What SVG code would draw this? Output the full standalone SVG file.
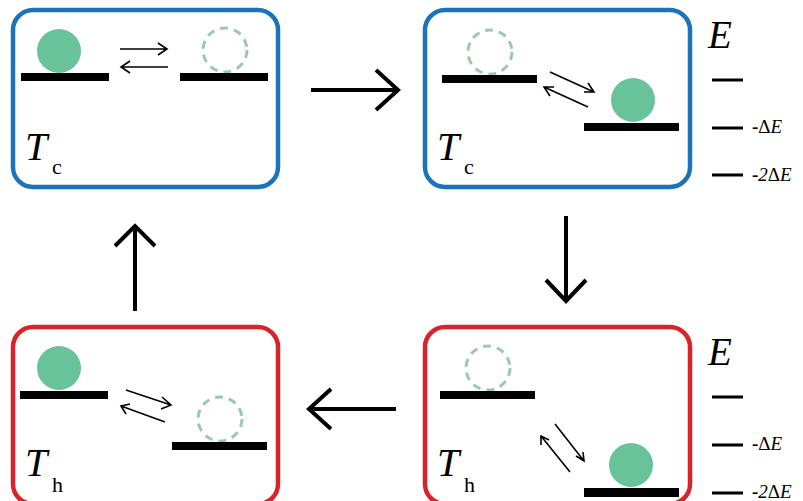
<svg xmlns="http://www.w3.org/2000/svg" width="803" height="501" viewBox="0 0 803 501">
<defs>
<style>
.box{fill:#fff;stroke-width:4.5}
.cold{stroke:#1b74bb}
.hot{stroke:#d9232a}
.bar{fill:#000}
.ball{fill:#68c39b}
.hole{fill:none;stroke:#9ccaa8;stroke-width:3;stroke-dasharray:8 6}
.eq{fill:none;stroke:#000;stroke-width:1.6}
.big{fill:none;stroke:#000;stroke-width:4}
.lvl{stroke:#000;stroke-width:3}
.T{font-family:"Liberation Serif",serif;font-style:italic;font-size:40px}
.sub{font-family:"Liberation Serif",serif;font-size:22px}
.E{font-family:"Liberation Serif",serif;font-style:italic;font-size:39px}
.lab{font-family:"Liberation Serif",serif;font-size:19px}
</style>
</defs>
<g id="box-tl">
<rect class="box cold" x="13" y="10" width="265" height="177" rx="20"/>
<circle class="ball" cx="59" cy="51" r="22"/>
<rect class="bar" x="21" y="73" width="88" height="8"/>
<circle class="hole" cx="225" cy="50" r="22"/>
<rect class="bar" x="180" y="73" width="88" height="8"/>
<path class="eq" d="M120 49H167M158 43L167 49L158 55M168 67H121M130 61L121 67L130 73"/>
<text class="T" x="25" y="160">T</text><text class="sub" x="52" y="174">c</text>
</g>
<g id="box-tr">
<rect class="box cold" x="425" y="10" width="265" height="177" rx="20"/>
<circle class="hole" cx="490" cy="52" r="22"/>
<rect class="bar" x="442" y="75" width="95" height="8"/>
<circle class="ball" cx="633" cy="100" r="22"/>
<rect class="bar" x="584" y="123" width="95" height="8"/>
<path class="eq" d="M550 72L594 92M584 92L594 92L588 83M588 107L544 87M554 87L544 87L550 96"/>
<text class="T" x="437" y="160">T</text><text class="sub" x="464" y="174">c</text>
</g>
<g id="box-bl">
<rect class="box hot" x="13" y="327" width="265" height="177" rx="20"/>
<circle class="ball" cx="59" cy="368" r="22"/>
<rect class="bar" x="20" y="391" width="88" height="8"/>
<circle class="hole" cx="220" cy="419" r="22"/>
<rect class="bar" x="172" y="442" width="95" height="8"/>
<path class="eq" d="M126 390L171 405M162 397L171 405L161 409M165 422L121 406M130 404L121 406L126 414"/>
<text class="T" x="25" y="476">T</text><text class="sub" x="52" y="492">h</text>
</g>
<g id="box-br">
<rect class="box hot" x="425" y="327" width="265" height="177" rx="20"/>
<circle class="hole" cx="488" cy="368" r="22"/>
<rect class="bar" x="440" y="391" width="95" height="8"/>
<circle class="ball" cx="631" cy="465" r="22"/>
<rect class="bar" x="584" y="488" width="95" height="9"/>
<path class="eq" d="M555 424L584 461M576 456L584 461L583 452M570 472L541 436M541 445L541 436L549 440"/>
<text class="T" x="437" y="476">T</text><text class="sub" x="464" y="492">h</text>
</g>
<g id="scale-top">
<text class="E" x="708" y="48">E</text>
<path class="lvl" d="M712 80H743M712 128H743M712 175H743"/>
<text class="lab" x="752" y="133"><tspan font-weight="bold">-</tspan>Δ<tspan font-style="italic">E</tspan></text>
<text class="lab" x="752" y="181"><tspan font-weight="bold">-</tspan><tspan font-style="italic">2</tspan>Δ<tspan font-style="italic">E</tspan></text>
</g>
<g id="scale-bottom">
<text class="E" x="708" y="365">E</text>
<path class="lvl" d="M712 397H743M712 445H743M712 493H743"/>
<text class="lab" x="752" y="450"><tspan font-weight="bold">-</tspan>Δ<tspan font-style="italic">E</tspan></text>
<text class="lab" x="752" y="498"><tspan font-weight="bold">-</tspan><tspan font-style="italic">2</tspan>Δ<tspan font-style="italic">E</tspan></text>
</g>
<g id="connectors">
<path class="big" d="M311 90H398M376 70L398 90L376 110"/>
<path class="big" d="M566 216V301M546 280L566 301L586 280"/>
<path class="big" d="M396 409H309M331 389L309 409L331 429"/>
<path class="big" d="M135 311V226M115 246L135 226L155 246"/>
</g>
</svg>
